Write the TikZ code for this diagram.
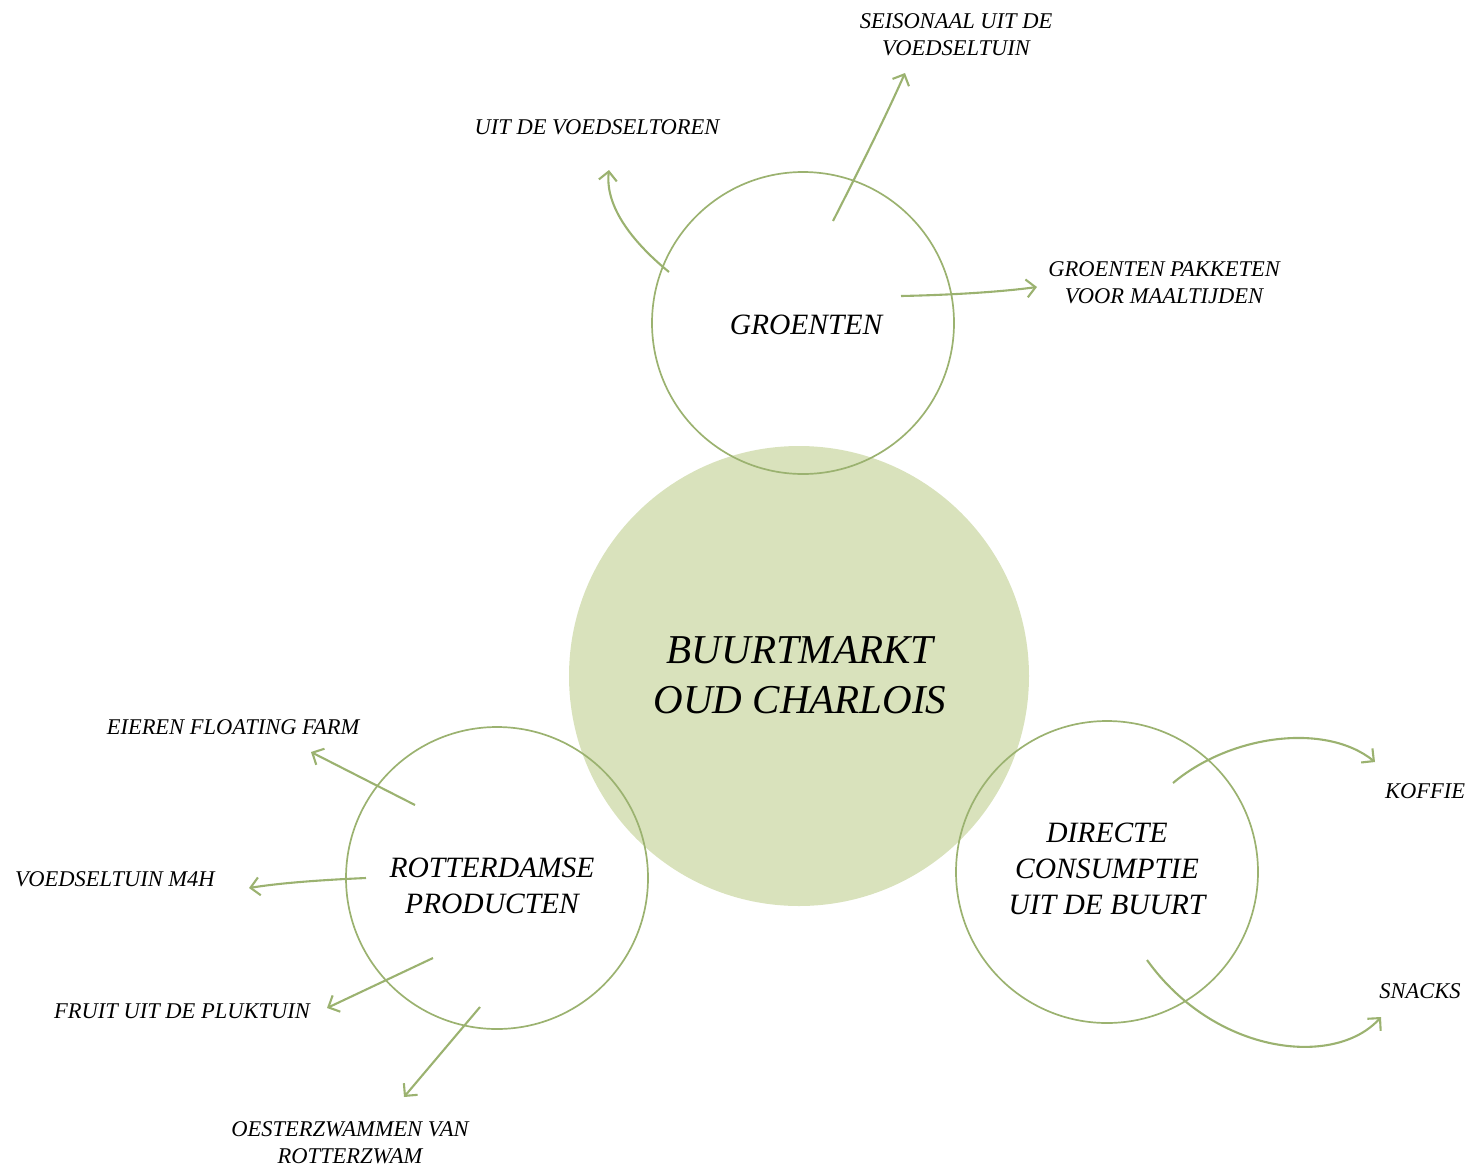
\documentclass[tikz,border=0pt]{standalone}
\usepackage{fontspec}
\setmainfont{Liberation Serif}
\usetikzlibrary{arrows.meta}
\definecolor{lg}{RGB}{155,178,112}
\definecolor{fillg}{RGB}{217,226,188}
\tikzset{
  ring/.style={circle, draw=lg, line width=1.7pt, minimum size=302pt, inner sep=0pt},
  bigc/.style={circle, fill=fillg, minimum size=460pt, inner sep=0pt},
  arr/.style={draw=lg, line width=2.1pt, -{Straight Barb[length=9pt,width=18pt,line width=2.1pt]}},
  lab/.style={font=\fontsize{22.5}{27}\selectfont\itshape, align=center, text=black, inner sep=0pt},
  clab/.style={font=\fontsize{29.5}{36}\selectfont\itshape, align=center, text=black, inner sep=0pt},
  blab/.style={font=\fontsize{41}{50}\selectfont\itshape, align=center, text=black, inner sep=0pt}
}
\begin{document}
\begin{tikzpicture}[x=1pt,y=-1pt]
\useasboundingbox (0,0) rectangle (1470,1168);
\node[bigc] (main) at (799,676) {};
\node[ring] (gro) at (803,323) {};
\node[ring] (rot) at (497,878) {};
\node[ring] (dir) at (1107,872) {};

\node[blab] (mainl) at (800,675) {BUURTMARKT\\OUD CHARLOIS};
\node[clab] (grol) at (806,325) {GROENTEN};
\node[clab] (rotl) at (492,886) {ROTTERDAMSE\\PRODUCTEN};
\node[clab] (dirl) at (1107,869) {DIRECTE\\CONSUMPTIE\\UIT DE BUURT};

\node[lab] (seis) at (956,35) {SEISONAAL UIT DE\\VOEDSELTUIN};
\node[lab] (toren) at (597,127) {UIT DE VOEDSELTOREN};
\node[lab] (pak) at (1164,283) {GROENTEN PAKKETEN\\VOOR MAALTIJDEN};
\node[lab] (eier) at (233,727) {EIEREN FLOATING FARM};
\node[lab] (m4h) at (115,879) {VOEDSELTUIN M4H};
\node[lab] (fruit) at (182,1011) {FRUIT UIT DE PLUKTUIN};
\node[lab] (oest) at (350,1143) {OESTERZWAMMEN VAN\\ROTTERZWAM};
\node[lab] (kof) at (1425,791) {KOFFIE};
\node[lab] (snack) at (1420,991) {SNACKS};

\coordinate (a1) at (669,272); \coordinate (b1) at (609,170);
\coordinate (a2) at (833,221); \coordinate (b2) at (905,73);
\coordinate (a3) at (901,296); \coordinate (b3) at (1037,287);
\coordinate (a4) at (415,805); \coordinate (b4) at (311,752);
\coordinate (a5) at (366,878); \coordinate (b5) at (249,888);
\coordinate (a6) at (433,958); \coordinate (b6) at (327,1008);
\coordinate (a7) at (480,1007); \coordinate (b7) at (404,1097);
\coordinate (a8) at (1173,783); \coordinate (b8) at (1375,762);
\coordinate (a9) at (1147,960); \coordinate (b9) at (1381,1017);

\draw[arr] (a1) .. controls (630,240) and (605,205) .. (b1);
\draw[arr] (a2) .. controls (860,168) and (885,118) .. (b2);
\draw[arr] (a3) .. controls (950,295) and (1000,292) .. (b3);
\draw[arr] (a4) -- (b4);
\draw[arr] (a5) .. controls (320,880) and (280,883) .. (b5);
\draw[arr] (a6) -- (b6);
\draw[arr] (a7) -- (b7);
\draw[arr] (a8) .. controls (1230,735) and (1325,722) .. (b8);
\draw[arr] (a9) .. controls (1215,1055) and (1335,1068) .. (b9);
\end{tikzpicture}
\end{document}
